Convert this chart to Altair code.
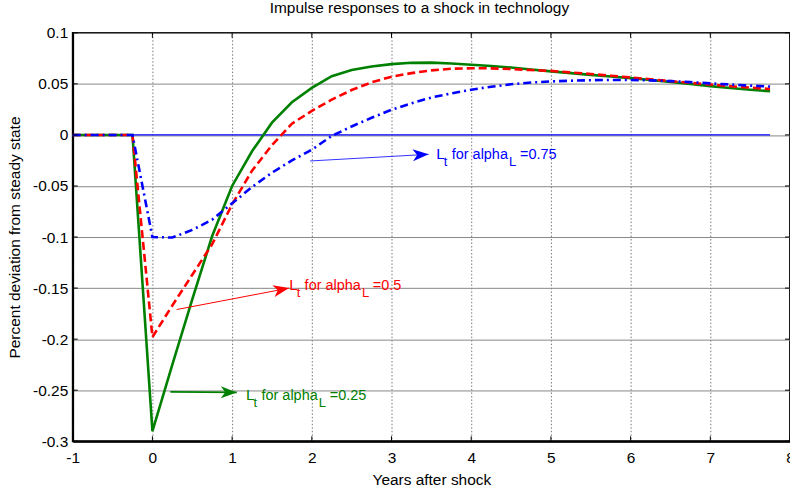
import math
import altair as alt
import pandas as pd

# ---------------- data ----------------
years = [-1.0, -0.75, -0.5, -0.25, 0.0, 0.25, 0.5, 0.75, 1.0, 1.25, 1.5, 1.75,
         2.0, 2.25, 2.5, 2.75, 3.0, 3.25, 3.5, 3.75, 4.0, 4.25, 4.5, 4.75,
         5.0, 5.25, 5.5, 5.75, 6.0, 6.25, 6.5, 6.75, 7.0, 7.25, 7.5, 7.75]

alpha_025 = [0, 0, 0, 0, -0.290, -0.225, -0.161, -0.099, -0.050, -0.016, 0.012, 0.032,
             0.046, 0.0575, 0.0635, 0.0670, 0.0693, 0.0706, 0.0708, 0.0700, 0.0688, 0.0675,
             0.0660, 0.0640, 0.0622, 0.0605, 0.0588, 0.0572, 0.0556, 0.0538, 0.0518, 0.0498,
             0.0478, 0.0460, 0.0443, 0.0428]

alpha_050 = [0, 0, 0, 0, -0.198, -0.167, -0.137, -0.107, -0.068, -0.035, -0.010, 0.011,
             0.0235, 0.0345, 0.044, 0.0515, 0.057, 0.0605, 0.0632, 0.0648, 0.0653, 0.0652,
             0.0645, 0.0635, 0.0627, 0.0612, 0.0597, 0.0580, 0.0563, 0.0545, 0.0527, 0.0510,
             0.0493, 0.0477, 0.0463, 0.0450]

alpha_075 = [0, 0, 0, 0, -0.100, -0.1005, -0.093, -0.083, -0.067, -0.051, -0.037, -0.025,
             -0.0145, -0.001, 0.0083, 0.0168, 0.0246, 0.031, 0.0366, 0.0407, 0.0443, 0.0472,
             0.0496, 0.0513, 0.0524, 0.0531, 0.0536, 0.0538, 0.0538, 0.0534, 0.0527, 0.0517,
             0.0505, 0.0494, 0.0483, 0.0474]

steady_state = [0.0] * len(years)

x_ticks = [-1, 0, 1, 2, 3, 4, 5, 6, 7, 8]
y_ticks = [-0.3, -0.25, -0.2, -0.15, -0.1, -0.05, 0, 0.05, 0.1]

# annotations: arrow start, arrow tip, label anchor, label value, colour
ann_colors = ["#0000ff", "#ff0000", "#008000"]
ann_values = ["=0.75", "=0.5", "=0.25"]
arrow_x1 = [1.979, 0.304, 0.225]
arrow_y1 = [-0.0255, -0.171, -0.2517]
arrow_x2 = [3.466, 1.716, 1.058]
arrow_y2 = [-0.019, -0.1500, -0.2522]
label_x = [3.562, 1.716, 1.175]
label_y = [-0.0232, -0.1516, -0.2595]

# ---------------- layout ----------------
W, H = 720, 410
XMIN, XMAX = -1, 8
YMIN, YMAX = -0.3, 0.1
FONT = "Liberation Sans"

xs = alt.Scale(domain=[XMIN, XMAX], nice=False, zero=False)
ys = alt.Scale(domain=[YMIN, YMAX], nice=False, zero=False)

AX_X = alt.Axis(values=x_ticks, title="Years after shock",
                labelExpr="datum.value + ''", grid=True,
                gridColor="#555555", gridDash=[1.5, 2], gridWidth=0.8,
                ticks=False, labelPadding=9, titlePadding=7,
                domainColor="black", domainWidth=1.8,
                labelFont=FONT, labelFontSize=15.5, labelColor="black",
                titleFont=FONT, titleFontSize=15.5, titleFontWeight="normal",
                titleColor="black", labelFlush=False)
AX_Y = alt.Axis(values=y_ticks, title="Percent deviation from steady state",
                labelExpr="datum.value + ''", grid=True,
                gridColor="#888888", gridWidth=1,
                ticks=False, labelPadding=5, titlePadding=10,
                domainColor="black", domainWidth=1.8,
                labelFont=FONT, labelFontSize=15.5, labelColor="black",
                titleFont=FONT, titleFontSize=15.5, titleFontWeight="normal",
                titleColor="black", labelFlush=False)


def X(field):
    return alt.X(f"{field}:Q", scale=xs, axis=AX_X)


def Y(field):
    return alt.Y(f"{field}:Q", scale=ys, axis=AX_Y)


curves = pd.DataFrame({
    "t": years,
    "a25": alpha_025,
    "a50": alpha_050,
    "a75": alpha_075,
    "ss": steady_state,
})

zero_line = alt.Chart(curves).mark_line(color="#0000ff", strokeWidth=1.2).encode(
    x=X("t"), y=Y("ss"))


def series(field, color, dash):
    kw = dict(color=color, strokeWidth=2.6)
    if dash:
        kw["strokeDash"] = dash
    return alt.Chart(curves).mark_line(**kw).encode(x=X("t"), y=Y(field))


green = series("a25", "#008000", None)
red = series("a50", "#ff0000", [8, 4])
blue = series("a75", "#0000ff", [8, 4, 2, 4])

# --- inner tick marks (MATLAB style)
xt = pd.DataFrame({"v": x_ticks})
yt = pd.DataFrame({"v": y_ticks})
tick_style = dict(color="black", strokeWidth=1)
top_ticks = alt.Chart(xt).mark_rule(**tick_style).encode(
    x=X("v"), y=alt.value(0), y2=alt.value(5))
bot_ticks = alt.Chart(xt).mark_rule(**tick_style).encode(
    x=X("v"), y=alt.value(H - 5), y2=alt.value(H))
left_ticks = alt.Chart(yt).mark_rule(**tick_style).encode(
    y=Y("v"), x=alt.value(0), x2=alt.value(5))
right_ticks = alt.Chart(yt).mark_rule(**tick_style).encode(
    y=Y("v"), x=alt.value(W - 5), x2=alt.value(W))

# --- arrows
px_x = W / (XMAX - XMIN)
px_y = H / (YMAX - YMIN)
angles = []
for a, b, c, d in zip(arrow_x1, arrow_y1, arrow_x2, arrow_y2):
    ang = math.degrees(math.atan2(-(d - b) * px_y, (c - a) * px_x)) % 360
    angles.append(ang)

arr = pd.DataFrame({
    "x1": arrow_x1, "y1": arrow_y1, "x2": arrow_x2, "y2": arrow_y2,
    "col": ann_colors, "ang": angles, "w": [0.8, 1.0, 1.8],
})
shafts = alt.Chart(arr).mark_rule().encode(
    x=X("x1"), y=Y("y1"), x2="x2:Q", y2="y2:Q",
    color=alt.Color("col:N", scale=None),
    strokeWidth=alt.StrokeWidth("w:Q", scale=None),
)
head_path = "M0,0 L-2,-0.75 L-1.45,0 L-2,0.75 Z"
heads = alt.Chart(arr).mark_point(shape=head_path, filled=True, size=256, opacity=1).encode(
    x=X("x2"), y=Y("y2"),
    color=alt.Color("col:N", scale=None),
    angle=alt.Angle("ang:Q", scale=None),
)

# --- annotation text pieces
lab = pd.DataFrame({"x": label_x, "y": label_y, "col": ann_colors, "val": ann_values})


def piece(dx, dy, size, const=None, field=None):
    ch = alt.Chart(lab).mark_text(align="left", baseline="alphabetic", dx=dx, dy=dy,
                                  font=FONT, fontSize=size)
    enc = dict(x=X("x"), y=Y("y"), color=alt.Color("col:N", scale=None))
    enc["text"] = alt.value(const) if const is not None else alt.Text(f"{field}:N")
    return ch.encode(**enc)


texts = [
    piece(0, 0, 15.5, const="L"),
    piece(7.5, 7, 13, const="t"),
    piece(15.5, 0, 14.5, const="for alpha"),
    piece(73, 7, 13, const="L"),
    piece(84, 0, 14.5, field="val"),
]

chart = alt.layer(
    zero_line, green, red, blue,
    top_ticks, bot_ticks, left_ticks, right_ticks,
    shafts, heads, *texts,
).properties(
    width=W, height=H,
    title=alt.TitleParams("Impulse responses to a shock in technology",
                          font=FONT, fontSize=15.5, fontWeight="normal",
                          color="black", dx=-12, offset=9),
    autosize=alt.AutoSizeParams(type="none"),
    padding={"left": 73, "top": 32, "right": 0, "bottom": 50},
    background="white",
).configure_view(
    stroke="black", strokeWidth=1.8,
)

chart.save("out.html", embed_options={"renderer": "svg", "actions": False})
